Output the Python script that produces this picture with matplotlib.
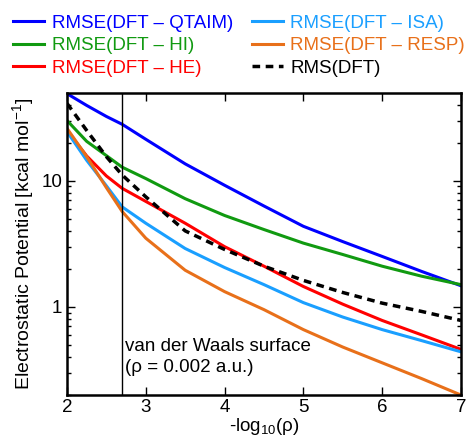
import numpy as np
import matplotlib
matplotlib.use('Agg')
import matplotlib.pyplot as plt
from matplotlib.ticker import LogLocator, NullFormatter, FixedLocator, FixedFormatter

plt.rcParams['font.family'] = ['Liberation Sans', 'DejaVu Sans']
plt.rcParams['mathtext.fontset'] = 'custom'
plt.rcParams['mathtext.rm'] = 'Liberation Sans'
plt.rcParams['mathtext.it'] = 'Liberation Sans:italic'

# -log10(rho) sample positions
x = [2.0, 2.25, 2.5, 2.7, 3.0, 3.5, 4.0, 4.5, 5.0, 5.5, 6.0, 6.5, 7.0]

qtaim = [49, 39.5, 32.3, 28, 21.3, 13.6, 9.2, 6.3, 4.35, 3.29, 2.51, 1.91, 1.47]
hi    = [30, 20.5, 15.8, 12.8, 10.4, 7.2, 5.3, 4.1, 3.2, 2.6, 2.1, 1.75, 1.5]
he    = [25, 15.7, 10.9, 8.7, 6.85, 4.6, 3.0, 2.1, 1.45, 1.05, 0.78, 0.6, 0.46]
isa   = [24.5, 14.5, 9.1, 6.2, 4.6, 2.9, 2.05, 1.5, 1.08, 0.83, 0.66, 0.54, 0.44]
resp  = [26, 15.5, 8.8, 5.7, 3.5, 1.95, 1.32, 0.95, 0.66, 0.48, 0.36, 0.27, 0.2]
rms   = [41, 25, 15.5, 11.1, 7.45, 4.0, 2.85, 2.1, 1.62, 1.3, 1.07, 0.92, 0.78]

series = [
    ("RMSE(DFT \u2013 QTAIM)", qtaim, '#0000ff', '-'),
    ("RMSE(DFT \u2013 HI)", hi, '#119a11', '-'),
    ("RMSE(DFT \u2013 HE)", he, '#ff0000', '-'),
    ("RMSE(DFT \u2013 ISA)", isa, '#1a9fff', '-'),
    ("RMSE(DFT \u2013 RESP)", resp, '#e8701a', '-'),
    ("RMS(DFT)", rms, '#000000', '--'),
]

vdw = -np.log10(0.002)

fig = plt.figure(figsize=(4.67, 4.37), dpi=100)
ax = fig.add_axes([0.1435, 0.0961, 0.8435, 0.6909])

handles = []
for label, y, color, ls in series:
    if ls == '--':
        h, = ax.plot(x, y, color=color, linestyle=ls, lw=2.5, dashes=(2.2, 1.6), label=label)
    else:
        h, = ax.plot(x, y, color=color, linestyle=ls, lw=2.2, label=label)
    handles.append(h)

ax.axvline(vdw, color='black', lw=1)
ax.text(2.73, 0.40, "van der Waals surface\n(\u03c1 = 0.002 a.u.)", fontsize=13.5,
        ha='left', va='center', linespacing=1.35)

ax.set_yscale('log')
ax.set_xlim(2, 7)
ax.set_ylim(0.2, 49.5)
ax.xaxis.set_major_locator(FixedLocator([2, 3, 4, 5, 6, 7]))
ax.yaxis.set_major_locator(FixedLocator([1, 10]))
ax.yaxis.set_major_formatter(FixedFormatter(['1', '10']))
ax.yaxis.set_minor_locator(LogLocator(base=10, subs=np.arange(2, 10)))
ax.yaxis.set_minor_formatter(NullFormatter())

ax.tick_params(axis='both', which='both', direction='in', top=True, right=True,
               labelsize=13.5, width=1)
ax.tick_params(axis='both', which='major', length=6)
ax.tick_params(axis='both', which='minor', length=3)
ax.tick_params(axis='x', pad=3)
for s in ax.spines.values():
    s.set_linewidth(1.8)

ax.set_xlabel("-log$_{10}$(\u03c1)", fontsize=13.5, labelpad=0)
ax.set_ylabel("Electrostatic Potential [kcal mol$^{-1}$]", fontsize=14, labelpad=4)

leg = fig.legend(handles=handles, ncol=2, loc='upper left', bbox_to_anchor=(0.012, 0.983),
                 frameon=False, fontsize=13.5, handlelength=1.65, handletextpad=0.4,
                 columnspacing=1.02, labelspacing=0.28, borderaxespad=0)
for txt, (label, y, color, ls) in zip(leg.get_texts(), series):
    txt.set_color(color)

fig.savefig('out.png', dpi=100)
